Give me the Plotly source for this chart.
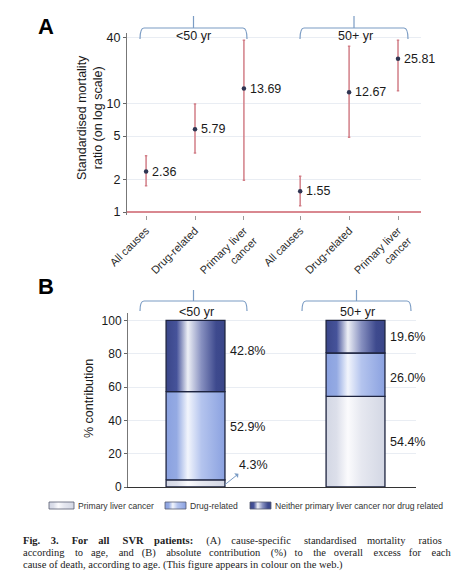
import math
import plotly.graph_objects as go

# ---------------- data ----------------
groups = ["<50 yr", "50+ yr"]
causes = ["All causes", "Drug-related", "Primary liver<br>cancer"]
smr_young = [2.36, 5.79, 13.69]
lo_young = [1.74, 3.49, 1.96]
hi_young = [3.30, 9.87, 38.1]
smr_old = [1.55, 12.67, 25.81]
lo_old = [1.14, 4.87, 13.1]
hi_old = [2.13, 33.6, 38.1]

contrib_segments = ["Primary liver cancer", "Drug-related", "Neither primary liver cancer nor drug related"]
contrib_young = [4.3, 52.9, 42.8]
contrib_old = [54.4, 26.0, 19.6]

ytick_a = [1, 2, 5, 10, 40]
ytick_b = [0, 20, 40, 60, 80, 100]

W, H = 465, 573
def px(x):
    return x / W
def py(y):
    return 1 - y / H

SANS = "Liberation Sans, Arial, sans-serif"
SERIF = "Liberation Serif, Times New Roman, serif"

fig = go.Figure()

# ---------------- Panel A ----------------
xpos_a = []
for g in range(2):
    for i in range(3):
        xpos_a.append(g * 3.15 + i)
vals = smr_young + smr_old
los = lo_young + lo_old
his = hi_young + hi_old
ticklabels_a = causes + causes

fig.add_trace(go.Scatter(
    x=xpos_a, y=vals, mode="markers",
    marker=dict(size=4.5, color="#2f3552"),
    error_y=dict(type="data", symmetric=False,
                 array=[h - v for h, v in zip(his, vals)],
                 arrayminus=[v - l for v, l in zip(vals, los)],
                 color="#d27f88", thickness=1.5, width=1.2),
    xaxis="x", yaxis="y", showlegend=False, hoverinfo="skip"))

for x, v in zip(xpos_a, vals):
    fig.add_annotation(x=x, y=math.log10(v), xref="x", yref="y", text=f"{v:.2f}",
                       showarrow=False, xanchor="left", xshift=4,
                       font=dict(family=SANS, size=12.5, color="#1a1a1a"))

fig.update_layout(
    xaxis=dict(domain=[px(119), px(413)], range=[-0.39, 5.62], automargin=False,
               tickvals=xpos_a, ticktext=ticklabels_a, tickangle=-45,
               ticks="outside", ticklen=4, tickcolor="#9a9a9a",
               showline=False, showgrid=False, zeroline=False,
               tickfont=dict(family=SANS, size=11, color="#2a2a2a")),
    yaxis=dict(domain=[py(207), py(25)], type="log", automargin=False,
               range=[-0.0276, 1.648],
               tickvals=ytick_a, ticktext=[str(t) for t in ytick_a],
               ticks="outside", ticklen=3, tickcolor="#666",
               showline=True, linecolor="#777", linewidth=1,
               showgrid=True, gridcolor="#e9edf3", gridwidth=1,
               zeroline=False,
               tickfont=dict(family=SANS, size=12.5, color="#1a1a1a")),
)
# reference line at SMR = 1
fig.add_shape(type="line", xref="x domain", yref="y", x0=0, x1=1, y0=1, y1=1,
              line=dict(color="#d98890", width=2.2))

# ---------------- Panel B ----------------
xpos_b = [0, 1]
half_w = 0.184
scales = [
    [[0, "#d3d7e4"], [0.18, "#dcdfea"], [0.37, "#fbfbfd"], [0.6, "#e6e8f0"], [1, "#d3d7e4"]],
    [[0, "#8aa1e0"], [0.18, "#94aae3"], [0.37, "#f2f5fc"], [0.6, "#b4c4ee"], [1, "#8aa1e0"]],
    [[0, "#3a4689"], [0.18, "#46539a"], [0.37, "#eef0f6"], [0.6, "#8790c0"], [0.85, "#3e4a8e"], [1, "#3a4689"]],
]
for c, series in zip(xpos_b, [contrib_young, contrib_old]):
    base = 0.0
    for k, v in enumerate(series):
        top = base + v
        x0, x1 = c - half_w, c + half_w
        fig.add_trace(go.Scatter(
            x=[x0, x1, x1, x0, x0], y=[base, base, top, top, base],
            mode="lines", fill="toself",
            fillgradient=dict(type="horizontal", start=x0, stop=x1, colorscale=scales[k]),
            line=dict(color="#1e2440", width=1.3),
            xaxis="x2", yaxis="y2", showlegend=False, hoverinfo="skip"))
        base = top

label_shift = {(0, 1): 9, (0, 2): 5, (1, 1): -3}
for gi, (c, series) in enumerate(zip(xpos_b, [contrib_young, contrib_old])):
    base = 0.0
    for k, v in enumerate(series):
        mid = base + v / 2
        base += v
        if gi == 0 and k == 0:
            continue
        fig.add_annotation(x=c + half_w, y=mid, xref="x2", yref="y2", text=f"{v:.1f}%",
                           showarrow=False, xanchor="left", xshift=3,
                           yshift=label_shift.get((gi, k), 0),
                           font=dict(family=SANS, size=12.5, color="#1a1a1a"))
# small-segment callout
fig.add_annotation(x=xpos_b[0] + half_w, y=contrib_young[0] / 3, xref="x2", yref="y2",
                   text="", showarrow=True, ax=15, ay=-12, arrowside="start",
                   arrowhead=2, arrowsize=0.8, arrowwidth=1, arrowcolor="#7b9cc4")
fig.add_annotation(x=xpos_b[0] + half_w, y=13.4, xref="x2", yref="y2",
                   text=f"{contrib_young[0]:.1f}%", showarrow=False,
                   xanchor="left", xshift=12,
                   font=dict(family=SANS, size=12.5, color="#1a1a1a"))

fig.update_layout(
    xaxis2=dict(domain=[px(120), px(408)], range=[-0.422, 1.378], anchor="y2",
                automargin=False,
                showticklabels=False, ticks="", showgrid=False, zeroline=False,
                showline=True, linecolor="#333", linewidth=1.2),
    yaxis2=dict(domain=[py(479), py(305)], range=[0, 104.4], anchor="x2",
                automargin=False,
                tickvals=ytick_b, ticks="outside", ticklen=3, tickcolor="#666",
                showline=True, linecolor="#777", linewidth=1,
                showgrid=True, gridcolor="#e9edf3", zeroline=False,
                tickfont=dict(family=SANS, size=12, color="#1a1a1a")),
)

# ---------------- legend (custom row) ----------------
fig.update_layout(
    xaxis3=dict(domain=[0, 1], range=[0, W], visible=False, anchor="y3", automargin=False),
    yaxis3=dict(domain=[py(506), py(489)], range=[506, 489], visible=False, anchor="x3",
                automargin=False),
)
legend_items = [(41, 66, contrib_segments[0]), (157, 178, contrib_segments[1]), (242, 263, contrib_segments[2])]
for k, (a, b, name) in enumerate(legend_items):
    fig.add_trace(go.Scatter(
        x=[a, b, b, a, a], y=[494, 494, 501, 501, 494], mode="lines", fill="toself",
        fillgradient=dict(type="horizontal", start=a, stop=b, colorscale=scales[k]),
        line=dict(color="#555a70", width=0.8),
        xaxis="x3", yaxis="y3", showlegend=False, hoverinfo="skip"))
    fig.add_annotation(x=px(b + 2), y=py(497.5), xref="paper", yref="paper", text=name,
                       showarrow=False, xanchor="left", yanchor="middle",
                       font=dict(family=SANS, size=8.6, color="#333"))

# ---------------- brackets ----------------
bracket_color = "#7b9cc4"
def bracket(x0, x1, yh, yb, yt):
    xc = (x0 + x1) / 2
    r = 4
    p = (f"M {px(x0)},{py(yb)} Q {px(x0)},{py(yh)} {px(x0 + r)},{py(yh)} "
         f"L {px(x1 - r)},{py(yh)} Q {px(x1)},{py(yh)} {px(x1)},{py(yb)} "
         f"M {px(xc)},{py(yh)} L {px(xc)},{py(yt)}")
    fig.add_shape(type="path", xref="paper", yref="paper", path=p,
                  line=dict(color=bracket_color, width=1.2))

bracket(132, 239, 20, 31, 8)
bracket(292, 400, 20, 31, 8)
bracket(132, 239, 293, 303, 282)
bracket(294, 403, 293, 303, 282)
for xc, yc, g in [(185, 28, groups[0]), (347, 28, groups[1]), (188, 304, groups[0]), (349, 304, groups[1])]:
    fig.add_annotation(x=px(xc), y=py(yc), xref="paper", yref="paper", text=g,
                       showarrow=False, xanchor="center", yanchor="middle",
                       font=dict(family=SANS, size=12.5, color="#1a1a1a"))

# ---------------- panel letters and axis titles ----------------
for xl, yl, t in [(38, 18, "A"), (38, 278, "B")]:
    fig.add_annotation(x=px(xl), y=py(yl), xref="paper", yref="paper", text=f"<b>{t}</b>",
                       showarrow=False, xanchor="center", yanchor="middle",
                       font=dict(family=SANS, size=22, color="#000"))
fig.add_annotation(x=px(82), y=py(110), xref="paper", yref="paper",
                   text="Standardised mortality<br>ratio (on log scale)", textangle=-90,
                   showarrow=False, xanchor="center", yanchor="middle",
                   font=dict(family=SANS, size=12.5, color="#1a1a1a"))
fig.add_annotation(x=px(81), y=py(391), xref="paper", yref="paper",
                   text="% contribution", textangle=-90,
                   showarrow=False, xanchor="center", yanchor="middle",
                   font=dict(family=SANS, size=12.5, color="#1a1a1a"))

# ---------------- caption (approximate justification with wider spaces) ----------------
def spread(text, extra_every):
    words = text.split(" ")
    out = words[0]
    for i, w in enumerate(words[1:]):
        gap = " \u2002"
        if extra_every and i % extra_every == 0:
            gap += "\u00a0"
        out += gap + w
    return out

cap1 = "Fig. 3. For all SVR patients: (A) cause-specific standardised mortality ratios"
cap2 = "according to age, and (B) absolute contribution (%) to the overall excess for each"
cap3 = "cause of death, according to age. (This figure appears in colour on the web.)"
bold_part = "Fig. 3. For all SVR patients:"
line1 = spread(cap1, 1)
# add a few more narrow spaces to line 1
line1_words = line1.split(" \u2002\u00a0")
line1 = ""
for i, w in enumerate(line1_words):
    if i == 0:
        line1 = w
    else:
        line1 += " \u2002\u00a0" + ("\u00a0" if i % 2 == 0 else "") + w
bold_end = line1.find("patients:") + len("patients:")
line1 = "<b>" + line1[:bold_end] + "</b>" + line1[bold_end:]
caption_lines = [line1, spread(cap2, 2), cap3]
for i, line in enumerate(caption_lines):
    fig.add_annotation(x=px(13), y=py(533 + 12 * i), xref="paper", yref="paper", text=line,
                       showarrow=False, xanchor="left", yanchor="middle",
                       font=dict(family=SERIF, size=10.5, color="#222"))

fig.update_layout(width=W, height=H,
                  margin=dict(l=0, r=0, t=0, b=0, pad=0, autoexpand=False),
                  paper_bgcolor="white", plot_bgcolor="white", showlegend=False)

fig.write_html("out.html")
